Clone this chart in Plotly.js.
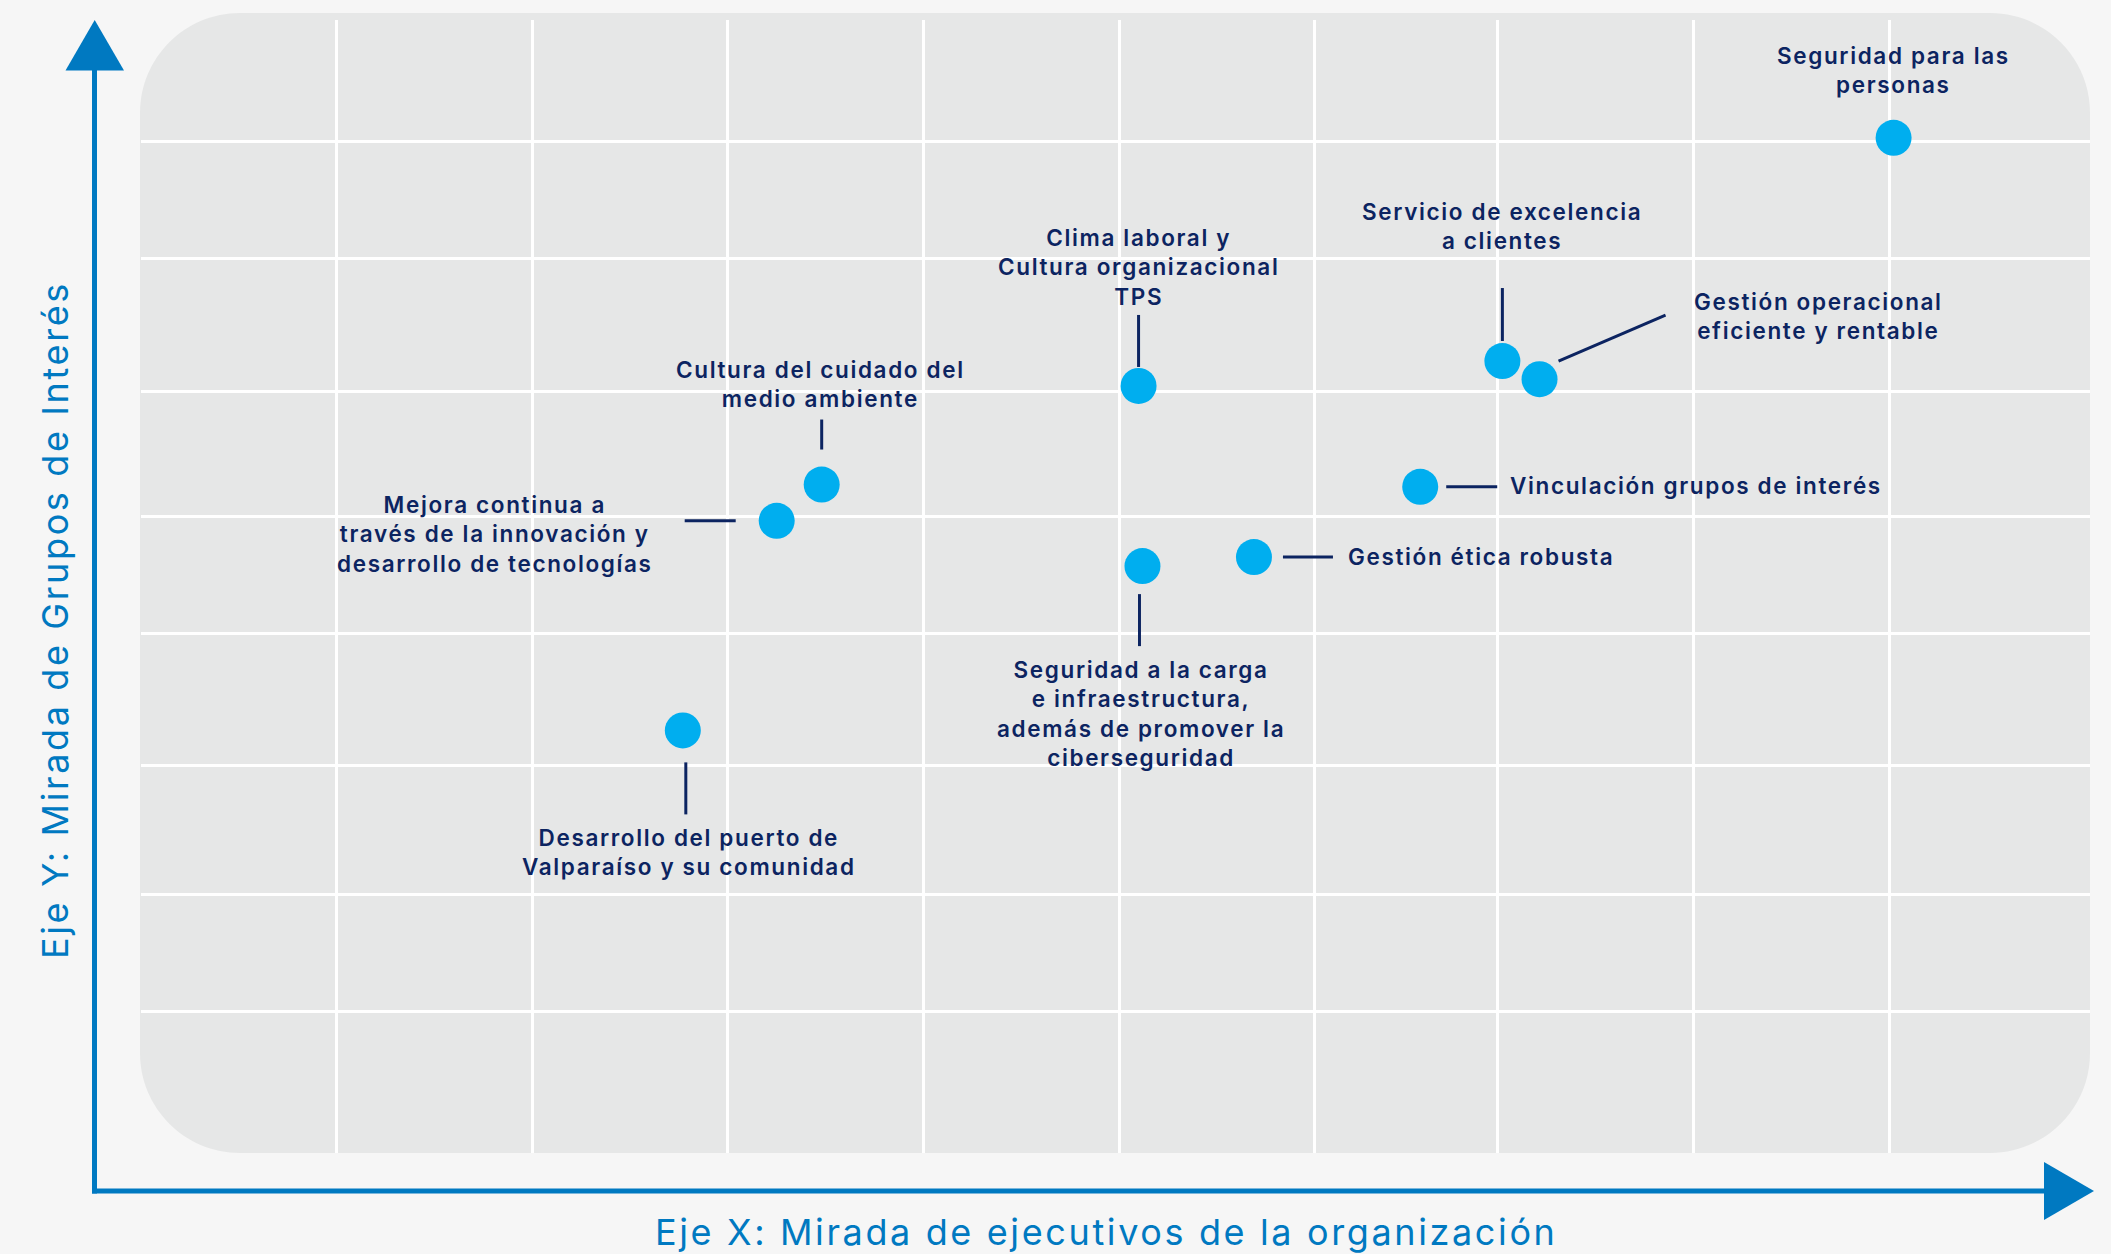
<!DOCTYPE html>
<html>
<head>
<meta charset="utf-8">
<script src="https://cdn.plot.ly/plotly-3.0.1.min.js"></script>
<style>
  html, body { margin: 0; padding: 0; background: #F6F6F6; }
  #chart { width: 2111px; height: 1254px; }
  text.annotation-text { letter-spacing: 0.073em; }
</style>
</head>
<body>
<div id="chart"></div>
<script>
// ---------------- DATA ----------------
const labels = [
  "Seguridad para las<br>personas",
  "Servicio de excelencia<br>a clientes",
  "Gestión operacional<br>eficiente y rentable",
  "Clima laboral y<br>Cultura organizacional<br>TPS",
  "Cultura del cuidado del<br>medio ambiente",
  "Mejora continua a<br>través de la innovación y<br>desarrollo de tecnologías",
  "Vinculación grupos de interés",
  "Gestión ética robusta",
  "Seguridad a la carga<br>e infraestructura,<br>además de promover la<br>ciberseguridad",
  "Desarrollo del puerto de<br>Valparaíso y su comunidad"
];
// Eje X: Mirada de ejecutivos de la organización
const xValues = [8.96, 6.96, 7.15, 5.10, 3.48, 3.25, 6.54, 5.69, 5.12, 2.77];
// Eje Y: Mirada de Grupos de Interés
const yValues = [8.96, 6.99, 6.83, 6.77, 5.90, 5.58, 5.88, 5.26, 5.18, 3.73];
// grid positions (axis tick values, no labels shown)
const gridX = [1, 2, 3, 4, 5, 6, 6.935, 7.937, 8.939];
const gridY = [1.251, 2.286, 3.416, 4.581, 5.616, 6.723, 7.891, 8.926];
const xTitle = "Eje X: Mirada de ejecutivos de la organización";
const yTitle = "Eje Y: Mirada de Grupos de Interés";

// ---------------- LAYOUT / STYLE ----------------
const NAVY = "#0C2461";
const BLUE = "#0079C1";
const CYAN = "#00AEEF";
const LABEL_FONT = {family: "Inter, 'Open Sans', sans-serif", size: 22.5, color: NAVY, weight: 600};
const TITLE_FONT = {family: "Inter, 'Open Sans', sans-serif", size: 36, color: BLUE, weight: 400};

// plot-area pixel geometry
const L = 141, R = 2090, T = 20, B = 1153;
const W = R - L, H = B - T;
const px = v => (v - L) / W;
const py = v => (B - v) / H;

// label placement (pixel offsets relative to each point) and leader lines
const labelPlacement = [
  {dx: 0,    dy: 68,    xa: "center", lead: null},
  {dx: 0,    dy: 135,   xa: "center", lead: [0, 20, 0, 73]},
  {dx: 279,  dy: 63,    xa: "center", lead: [19, 18, 126, 64]},
  {dx: 0,    dy: 119,   xa: "center", lead: [0, 19, 0, 71]},
  {dx: -1,   dy: 101,   xa: "center", lead: [0, 35, 0, 65]},
  {dx: -282, dy: -13,   xa: "center", lead: [-92, 0, -41, 0]},
  {dx: 88,   dy: 1,     xa: "left",   lead: [26, 0, 77, 0]},
  {dx: 92,   dy: 1,     xa: "left",   lead: [29, 0, 79, 0]},
  {dx: -1,   dy: -147,  xa: "center", lead: [-3, -28, -3, -80]},
  {dx: 6,    dy: -122,  xa: "center", lead: [3, -32, 3, -84]}
];

const annotations = labels.map((t, i) => ({
  x: xValues[i], y: yValues[i], xref: "x", yref: "y",
  text: t, showarrow: false,
  xshift: labelPlacement[i].dx, yshift: labelPlacement[i].dy,
  xanchor: labelPlacement[i].xa, yanchor: "middle", align: "center",
  font: LABEL_FONT
}));
annotations.push({
  xref: "paper", yref: "paper", x: px(1106), y: py(1232),
  text: xTitle, showarrow: false, xanchor: "center", yanchor: "middle",
  font: TITLE_FONT
});
annotations.push({
  xref: "paper", yref: "paper", x: px(55), y: py(620),
  text: yTitle, showarrow: false, textangle: -90, xanchor: "center", yanchor: "middle",
  font: TITLE_FONT
});

// rounded panel
function roundedPanel(l, t, r, b, rad) {
  const k = 0.5523 * rad;
  const P = (x, y) => px(x) + "," + py(y);
  return "M" + P(l + rad, t) +
    " L" + P(r - rad, t) +
    " C" + P(r - rad + k, t) + " " + P(r, t + rad - k) + " " + P(r, t + rad) +
    " L" + P(r, b - rad) +
    " C" + P(r, b - rad + k) + " " + P(r - rad + k, b) + " " + P(r - rad, b) +
    " L" + P(l + rad, b) +
    " C" + P(l + rad - k, b) + " " + P(l, b - rad + k) + " " + P(l, b - rad) +
    " L" + P(l, t + rad) +
    " C" + P(l, t + rad - k) + " " + P(l + rad - k, t) + " " + P(l + rad, t) + " Z";
}

const shapes = [
  {type: "path", xref: "paper", yref: "paper", layer: "below",
   path: roundedPanel(140, 13, 2090, 1153, 100),
   fillcolor: "#E6E7E7", line: {width: 0}},
  // Y axis arrow
  {type: "line", xref: "paper", yref: "paper", x0: px(94.5), y0: py(1193.5), x1: px(94.5), y1: py(40),
   line: {color: BLUE, width: 5}},
  {type: "path", xref: "paper", yref: "paper",
   path: "M" + px(65.5) + "," + py(70.5) + " L" + px(124) + "," + py(70.5) + " L" + px(94.7) + "," + py(20) + " Z",
   fillcolor: BLUE, line: {width: 0}},
  // X axis arrow
  {type: "line", xref: "paper", yref: "paper", x0: px(92), y0: py(1191), x1: px(2060), y1: py(1191),
   line: {color: BLUE, width: 5}},
  {type: "path", xref: "paper", yref: "paper",
   path: "M" + px(2044) + "," + py(1162) + " L" + px(2044) + "," + py(1220) + " L" + px(2094) + "," + py(1191) + " Z",
   fillcolor: BLUE, line: {width: 0}}
];

labelPlacement.forEach((p, i) => {
  if (!p.lead) return;
  shapes.push({
    type: "line", xref: "x", yref: "y",
    xsizemode: "pixel", ysizemode: "pixel",
    xanchor: xValues[i], yanchor: yValues[i],
    x0: p.lead[0], y0: p.lead[1], x1: p.lead[2], y1: p.lead[3],
    line: {color: NAVY, width: 3}
  });
});

const trace = {
  type: "scatter", mode: "markers",
  x: xValues, y: yValues, text: labels.map(s => s.replace(/<br>/g, " ")),
  hoverinfo: "text",
  marker: {size: 36, color: CYAN, line: {width: 0}},
  cliponaxis: false
};

const layout = {
  width: 2111, height: 1254,
  margin: {l: L, r: 2111 - R, t: T, b: 1254 - B, pad: 0},
  paper_bgcolor: "#F6F6F6",
  plot_bgcolor: "rgba(0,0,0,0)",
  showlegend: false,
  xaxis: {range: [0, W / 195.6], tickvals: gridX, showticklabels: false, ticks: "",
          showgrid: true, gridcolor: "#FFFFFF", gridwidth: 3, zeroline: false, showline: false, fixedrange: true},
  yaxis: {range: [0, 10], tickvals: gridY, showticklabels: false, ticks: "",
          showgrid: true, gridcolor: "#FFFFFF", gridwidth: 3, zeroline: false, showline: false, fixedrange: true},
  shapes: shapes,
  annotations: annotations
};

Plotly.newPlot("chart", [trace], layout, {displayModeBar: false, staticPlot: true});
</script>
</body>
</html>
